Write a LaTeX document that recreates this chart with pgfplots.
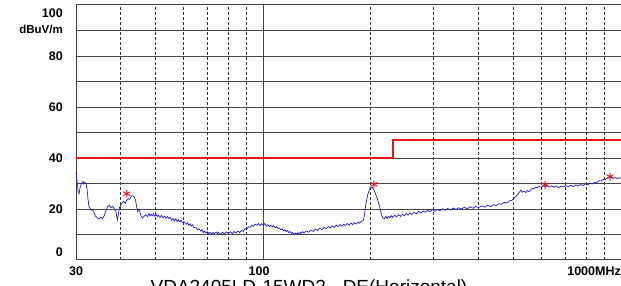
\documentclass[border=0pt]{standalone}
\usepackage{fontspec}
\setmainfont{Liberation Sans}
\usepackage{pgfplots}
\pgfplotsset{compat=1.18}
\definecolor{trace}{RGB}{30,30,215}
\definecolor{limit}{RGB}{235,20,20}
\definecolor{gridc}{RGB}{70,70,70}
\begin{document}
\begin{tikzpicture}
\path[use as bounding box] (0,0) rectangle (621pt,286pt);
\begin{axis}[
  at={(76pt,26pt)}, anchor=south west,
  scale only axis, width=545pt, height=255pt,
  xmode=log, xmin=30, xmax=1000, ymin=0, ymax=100,
  axis line style={draw=none},
  xtick={100}, xticklabels={},
  minor xtick={40,50,60,70,80,90,200,300,400,500,600,700,800,900},
  ytick={10,20,30,40,50,60,70,80,90}, yticklabels={},
  major tick length=0pt, minor tick length=0pt,
  xmajorgrids, xminorgrids, ymajorgrids,
  major grid style={draw=gridc, line width=0.9pt},
  minor grid style={draw=black!80, line width=0.9pt, dash pattern=on 2.5pt off 2.5pt},
  clip=false,
]
% frame (left, bottom, top)
\draw[gridc, line width=1pt] (axis cs:1000,100) -- (axis cs:30,100) -- (axis cs:30,0) -- (axis cs:1000,0);
% limit line
\addplot[limit, line width=2pt, const plot] coordinates {(30,40) (230,40) (230,47) (1000,47)};
% measured trace
\addplot[trace, line width=0.7pt] coordinates {
(30,34.6) (30.2,31) (30.4,27) (30.6,26) (30.8,28.5) (31.0,29.5) (31.2,30.5) (31.4,30.8)
(31.6,29.8) (31.8,30.5) (32.0,30) (32.2,28) (32.4,24) (32.6,21) (32.8,20.4) (33.1,19.5)
(33.4,19.8) (33.7,18.5) (34.0,17.2) (34.4,16.5) (34.8,16) (35.2,16.8) (35.6,16.2) (36.0,17.5)
(36.4,19.5) (36.8,21) (37.2,21.5) (37.6,20.5) (38.0,21) (38.4,20) (38.8,19) (39.0,17)
(39.2,15.7) (39.4,18) (39.7,20.5) (40.0,21.5) (40.4,22.5) (40.8,23) (41.2,22.2) (41.6,23.5)
(42.0,24) (42.4,23.8) (42.8,25) (43.2,25.2) (43.6,24.8) (44.0,23.5) (44.3,21) (44.6,19)
(45.0,20) (45.5,17.5) (46.0,16.5) (46.5,17.2) (47.0,17.8) (47.5,17)
(48.0,18.2) (48.3,17.2) (48.6,18) (49.0,17.3) (49.4,18.1) (49.8,17.2) (50.2,17.9) (50.6,17)
(51.0,17.6) (51.5,16.7) (52,17.5) (52.5,16.6) (53,17.2) (53.5,16.4) (54,17.1) (54.5,16.2)
(55,16.8) (55.5,15.6) (56,16.3) (56.5,15.3) (57,16.2) (57.5,15.1) (58,15.8) (58.5,14.9)
(59,15.6) (59.5,14.6) (60,15)
(61,14) (61.5,14.6) (62,13.6) (62.5,14.2) (63,13.3) (63.5,13.8) (64,12.8) (65,12.6)
(65.5,11.8) (66,12.3) (67,11.3) (67.5,11.9) (68,10.7) (68.5,11.4) (69,10.6) (70,11.1)
(70.5,10.2) (71,10.9) (72,10.1) (72.5,10.8) (73,10.2) (74,11) (74.5,10.3) (75,10.9)
(76,10.1) (77,10.9) (78,10.2) (79,11) (80,10.4) (81,11.1) (82,10.3) (83,11.2)
(84,10.6) (85,11.4) (86,10.8) (87,11.6) (88,11.2) (89,12.3) (90,12) (91,13)
(92,12.8) (93,13.6) (94,13.2) (95,14.1) (96,13.6)
(97,14.3) (98,13.5) (99,14.2) (100,13.6) (101,14.3) (102,13.3) (103,13.9) (104,13.1)
(105,13.7) (106,12.9) (107,13.5) (108,12.6) (109,13.1) (110,12.3) (111,12.6) (112,11.8)
(113,12.2) (114,11.4) (115,11.9) (116,11.1) (117,11.6) (118,10.7) (119,11.2) (120,10.4)
(121,10.8) (122,9.9) (123,10.6) (124,10.1) (125,10.7) (126,10) (127,10.9) (128,10.4)
(129,11.1) (130,10.6) (132,11.4) (134,10.9) (136,11.7) (138,11.2) (140,12.1) (142,11.6)
(144,12.5) (146,11.9) (148,12.8) (150,12.3) (152,13.1) (154,12.6) (156,13.4) (158,12.8)
(160,13.7) (162,13.1) (164,13.9) (166,13.3) (168,14.1) (170,13.5) (172,14.3) (174,13.7)
(176,14.5) (178,13.9) (180,14.6) (182,14.1) (184,14.9) (186,14.4) (188,15.2) (190,15.3)
(191,16) (192.5,19) (194,22.5) (196,25.5) (198,27.5) (200,28.5) (202,28.3)
(204,27.5) (206,26) (208,24.5) (210,22.5) (212,20.5) (214,18) (216,16.5)
(218,16.2) (220,17.1) (222,16.3) (224,17.2) (226,16.5) (228,17.4) (230,16.7) (233,17.6)
(236,16.9) (239,17.8) (242,17.1) (245,18) (248,17.3) (251,18.2) (254,17.6) (257,18.5)
(260,17.8) (264,18.7) (268,18.1) (272,19) (276,18.4) (280,19.2) (284,18.7) (288,19.5)
(292,18.9) (297,19.7) (302,19.1) (307,19.9) (312,19.3) (317,20.1) (322,19.5) (328,20.2)
(334,19.6) (340,20.4) (346,19.8) (352,20.5) (358,20) (365,20.7) (372,20.1) (379,20.9)
(386,20.3) (393,21) (400,20.5) (408,21.2) (416,20.7) (424,21.5) (432,20.9) (440,21.7)
(448,21.3) (456,22.1) (464,21.8) (472,22.6) (480,22.3) (488,23.2) (496,23.4)
(505,24.6) (512,25.3) (520,26.6) (526,27.4) (530,26.6) (536,27) (542,26.4) (548,27.2)
(554,26.8) (560,27.6) (566,28.2) (572,27.9) (578,28.6) (584,28.3) (590,28.9) (598,28.5)
(606,29.2) (614,28.7) (622,29.3) (630,28.6) (640,29.1) (650,28.5) (660,29) (670,28.4)
(680,29) (690,28.6) (700,29.2) (712,28.7) (724,29.3) (736,28.8) (748,29.5) (760,29)
(772,29.6) (784,29.2) (796,29.8) (808,29.5) (820,30.1) (832,29.8) (844,30.5) (856,30.4)
(868,31.1) (880,31) (892,31.6) (904,31.5) (916,32.3) (928,32.1) (940,32.7) (952,32)
(964,32.4) (976,31.9) (988,32.3) (1000,32)
};
% peak markers
\addplot[only marks, mark=asterisk, mark size=4pt, limit, line width=0.9pt]
  coordinates {(41.6,26) (204,29.7) (614,29.4) (932,32.7)};
% y labels
\begin{scope}[every node/.style={anchor=east, inner sep=0pt, font=\fontsize{12.5}{14}\selectfont\bfseries}]
\node at ([xshift=-13pt,yshift=-8.5pt]axis cs:30,100) {100};
\node at ([xshift=-13pt]axis cs:30,90.5) {\fontsize{11.5}{13}\selectfont dBuV/m};
\node at ([xshift=-13pt]axis cs:30,80) {80};
\node at ([xshift=-13pt]axis cs:30,60) {60};
\node at ([xshift=-13pt]axis cs:30,40) {40};
\node at ([xshift=-13pt]axis cs:30,20) {20};
\node at ([xshift=-13pt]axis cs:30,3) {0};
\end{scope}
% x labels
\begin{scope}[every node/.style={inner sep=0pt, font=\fontsize{12.5}{14}\selectfont\bfseries}]
\node at ([yshift=-11pt]axis cs:30,0) {30};
\node at ([xshift=-4pt,yshift=-11pt]axis cs:100,0) {100};
\node[anchor=east] at ([yshift=-11pt]axis cs:1000,0) {1000MHz};
\end{scope}
\end{axis}
\node[anchor=north, inner sep=0pt, font=\fontsize{19}{22}\selectfont] at (309pt,6pt) {VDA2405LD-15WD2 - DE(Horizontal)};
\end{tikzpicture}
\end{document}
